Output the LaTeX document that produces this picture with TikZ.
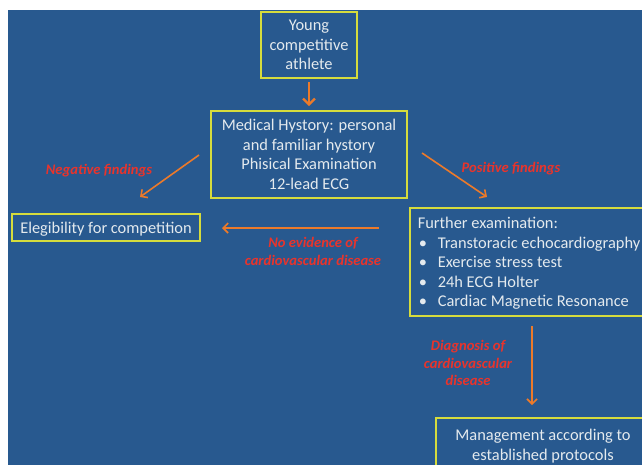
\documentclass[tikz,border=0pt]{standalone}
\usepackage{fontspec}
\setmainfont{Carlito}
\usetikzlibrary{arrows.meta}
\definecolor{bg}{HTML}{28598F}
\definecolor{boxline}{HTML}{D6DC3C}
\definecolor{txt}{HTML}{E4EAEE}
\definecolor{arr}{HTML}{EC7A2A}
\definecolor{lab}{HTML}{E8342C}
\begin{document}
\begin{tikzpicture}[x=1pt,y=-1pt,
 box/.style={draw=boxline, line width=1.6pt, text=txt, font=\fontsize{16.4}{19.5}\selectfont, align=center, inner sep=0pt, text depth=0pt},
 conn/.style={draw=arr, line width=1.6pt, -{Straight Barb[length=5pt,width=10pt,line width=1.6pt]}},
 lbl/.style={text=lab, font=\fontsize{14.6}{17.5}\selectfont\bfseries\itshape, align=center}]
\useasboundingbox (0,0) rectangle (642,464);
\clip (0,0) rectangle (642,464);
\fill[white] (0,0) rectangle (642,464);
\fill[bg] (8,10) rectangle (650,470);
% boxes
\node[box, minimum width=96pt, minimum height=66pt] (young) at (309,45) {Young\\competitive\\athlete};
\node[box, minimum width=196pt, minimum height=87pt] (medical) at (309,154.5) {Medical Hystory: personal\\and familiar hystory\\Phisical Examination\\12-lead ECG};
\node[box, minimum width=188pt, minimum height=27pt] (eleg) at (106,227.5) {Elegibility for competition};
\node[box, anchor=west, align=left, inner xsep=8pt, minimum height=108pt] (further) at (409,262) {Further examination:\\
\makebox[20pt][l]{\hspace{1pt}\textbullet}Transtoracic echocardiography\\
\makebox[20pt][l]{\hspace{1pt}\textbullet}Exercise stress test\\
\makebox[20pt][l]{\hspace{1pt}\textbullet}24h ECG Holter\\
\makebox[20pt][l]{\hspace{1pt}\textbullet}Cardiac Magnetic Resonance\hspace{20pt}};
\node[box, minimum width=214pt, minimum height=54pt] (manage) at (543,445) {Management according to\\established protocols};
% connector end points
\coordinate (negS) at (199,155);
\coordinate (negE) at (140,197);
\coordinate (posS) at (422,153);
\coordinate (posE) at (487,197);
\coordinate (noS) at (379,228);
\coordinate (noE) at (222,228);
\coordinate (diaS) at (532,326);
\coordinate (diaE) at (532,405);
% connectors
\draw[conn, line width=2.6pt, shorten <=3pt, shorten >=4pt, -{Straight Barb[length=6pt,width=12pt,line width=2.4pt]}] (young) -- (medical);
\draw[conn] (negS) -- (negE);
\draw[conn] (posS) -- (posE);
\draw[conn] (noS) -- (noE);
\draw[conn] (diaS) -- (diaE);
% labels
\node[lbl] (negL) at (99,170.5) {Negative findings};
\node[lbl] (posL) at (511,168.5) {Positive findings};
\node[lbl] (noL) at (313,251.5) {No evidence of\\cardiovascular disease};
\node[lbl] (diaL) at (468,363) {Diagnosis of\\cardiovascular\\disease};
\end{tikzpicture}
\end{document}
